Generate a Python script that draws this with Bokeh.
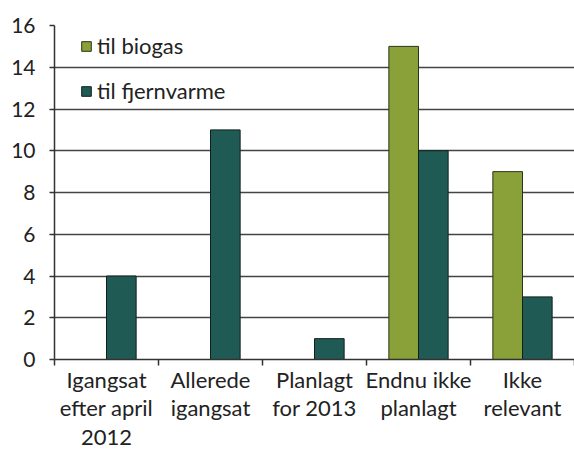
from bokeh.plotting import figure
from bokeh.models import Range1d, FixedTicker, Legend, LegendItem, ColumnDataSource
from bokeh.transform import dodge
from bokeh.embed import file_html
from bokeh.resources import INLINE

categories = ["Igangsat\nefter april\n2012", "Allerede\nigangsat", "Planlagt\nfor 2013",
              "Endnu ikke\nplanlagt", "Ikke\nrelevant"]
biogas = [0, 0, 0, 15, 9]
fjernvarme = [4, 11, 1, 10, 3]
series_names = ["til biogas", "til fjernvarme"]
colors = ["#8aa13a", "#1f5b54"]
y_ticks = [0, 2, 4, 6, 8, 10, 12, 14, 16]

FONT = "Lato"
AX = "#333333"

pos = list(range(len(categories)))
src = ColumnDataSource(dict(pos=pos, biogas=biogas, fjernvarme=fjernvarme))

p = figure(width=574, height=453, output_backend="svg", toolbar_location=None,
           x_range=Range1d(-0.5, len(categories) - 0.5), y_range=Range1d(0, 16),
           min_border_left=54, min_border_right=0, min_border_top=25, min_border_bottom=92)
p.outline_line_color = None
p.background_fill_color = "white"
p.border_fill_color = "white"

bw = 0.285
r1 = p.vbar(x=dodge("pos", -bw / 2, range=p.x_range), top="biogas", width=bw, source=src,
            fill_color=colors[0], line_color="#2a3318", line_width=1)
r2 = p.vbar(x=dodge("pos", bw / 2, range=p.x_range), top="fjernvarme", width=bw, source=src,
            fill_color=colors[1], line_color="#12201c", line_width=1)

p.xgrid.visible = False
p.ygrid.ticker = FixedTicker(ticks=y_ticks)
p.ygrid.grid_line_color = "#444444"
p.ygrid.grid_line_width = 1.5
p.ygrid.level = "underlay"

p.yaxis.ticker = FixedTicker(ticks=y_ticks, minor_ticks=[])
p.yaxis.major_tick_out = 5
p.yaxis.major_tick_in = 0
p.yaxis.axis_line_color = AX
p.yaxis.axis_line_width = 1.5
p.yaxis.major_tick_line_color = AX
p.yaxis.major_tick_line_width = 1.5
p.yaxis.major_label_text_font = FONT
p.yaxis.major_label_text_font_size = "21px"
p.yaxis.major_label_text_color = "#222222"
p.yaxis.major_label_standoff = 14

p.xaxis.ticker = FixedTicker(ticks=pos, minor_ticks=[i - 0.5 for i in range(len(categories) + 1)])
p.xaxis.major_label_overrides = {i: c for i, c in zip(pos, categories)}
p.xaxis.major_tick_out = 0
p.xaxis.major_tick_in = 0
p.xaxis.minor_tick_out = 6
p.xaxis.minor_tick_in = 0
p.xaxis.minor_tick_line_color = AX
p.xaxis.minor_tick_line_width = 1.5
p.xaxis.axis_line_color = AX
p.xaxis.axis_line_width = 1.5
p.xaxis.major_label_text_font = FONT
p.xaxis.major_label_text_font_size = "22px"
p.xaxis.major_label_text_color = "#222222"
p.xaxis.major_label_text_line_height = 1.07
p.xaxis.major_label_standoff = 0

legend = Legend(items=[LegendItem(label=series_names[0], renderers=[r1]),
                       LegendItem(label=series_names[1], renderers=[r2])],
                location=(26, 255), orientation="vertical",
                glyph_width=12, glyph_height=12, label_height=25, spacing=18,
                label_standoff=5, padding=0, margin=0,
                background_fill_alpha=0, border_line_alpha=0,
                label_text_font=FONT, label_text_font_size="22px", label_text_color="#222222")
p.add_layout(legend)

open("out.html", "w").write(file_html(p, INLINE))
